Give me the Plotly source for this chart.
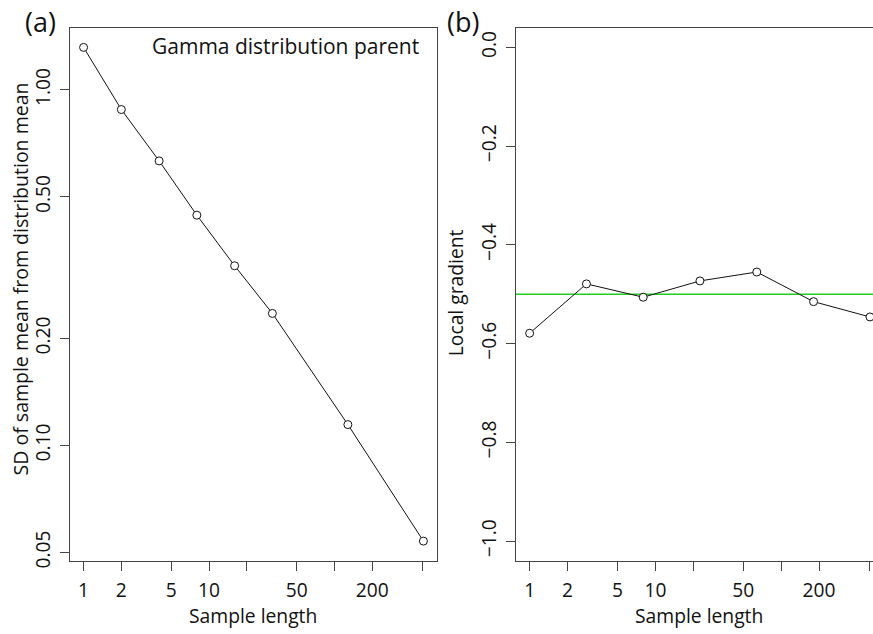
import math
import plotly.graph_objects as go

# Panel (a): SD of the sample mean against sample length
sample_length = [1, 2, 4, 8, 16, 32, 128, 512]
sd_of_mean = [1.316, 0.880, 0.631, 0.444, 0.320, 0.235, 0.1144, 0.0538]

# Panel (b): local gradient of the log-log curve
gradient_length = [1, 2.83, 8, 22.6, 64, 181, 508]
local_gradient = [-0.579, -0.479, -0.506, -0.473, -0.455, -0.515, -0.546]
reference_gradient = -0.5

x_tick_vals = [1, 2, 5, 10, 20, 50, 100, 200, 500]
x_tick_text = ["1", "2", "5", "10", "", "50", "", "200", ""]
ya_tick_vals = [0.05, 0.10, 0.20, 0.50, 1.00]
ya_tick_text = ["0.05", "0.10", "0.20", "0.50", "1.00"]
yb_tick_vals = [-1.0, -0.8, -0.6, -0.4, -0.2, 0.0]
yb_tick_text = ["\u22121.0", "\u22120.8", "\u22120.6", "\u22120.4", "\u22120.2", "0.0"]

W, H = 873, 634
FONT = "Open Sans"
INK = "#111111"
BOX = "#444444"
TICK_FS = 19.2
TITLE_FS = 19.3


def padded(lo, hi, frac=0.04):
    span = hi - lo
    return [lo - frac * span, hi + frac * span]


lx = [math.log10(v) for v in sample_length]
ly = [math.log10(v) for v in sd_of_mean]
xa_range = padded(min(lx), max(lx))
ya_range = padded(min(ly), max(ly))
yb_range = padded(-1.0, 0.0)
# the right-hand panel runs off the edge of the page
xb_range = [xa_range[0], xa_range[0] + (xa_range[1] - xa_range[0]) * (873 - 516) / (884 - 516)]

fig = go.Figure()

marker = dict(symbol="circle", size=8, color="white", line=dict(color=INK, width=1))

fig.add_trace(go.Scatter(
    x=sample_length, y=sd_of_mean, mode="lines+markers",
    line=dict(color=INK, width=1), marker=marker,
    xaxis="x", yaxis="y", showlegend=False, cliponaxis=False,
))

fig.add_trace(go.Scatter(
    x=gradient_length, y=local_gradient, mode="lines+markers",
    line=dict(color=INK, width=1), marker=marker,
    xaxis="x2", yaxis="y2", showlegend=False, cliponaxis=False,
))

fig.add_shape(type="line", xref="x2 domain", yref="y2",
              x0=0, x1=1, y0=reference_gradient, y1=reference_gradient,
              line=dict(color="#22cc22", width=1.3), layer="below")

y0 = 1 - 568 / H
y1 = 1 - 28 / H

common_x = dict(
    type="log", tickvals=x_tick_vals, ticktext=x_tick_text,
    ticks="outside", ticklen=9, tickwidth=1, tickcolor=BOX,
    showline=True, linecolor=BOX, linewidth=1.2,
    showgrid=False, zeroline=False,
    tickfont=dict(family=FONT, size=TICK_FS, color=INK),
    ticklabelstandoff=3,
)
common_y = dict(
    ticks="outside", ticklen=9, tickwidth=1, tickcolor=BOX,
    showline=True, linecolor=BOX, linewidth=1.2,
    showgrid=False, zeroline=False, tickangle=-90,
    tickfont=dict(family=FONT, size=TICK_FS, color=INK),
    ticklabelstandoff=2,
)

fig.update_layout(
    width=W, height=H,
    margin=dict(l=0, r=0, t=0, b=0),
    paper_bgcolor="white", plot_bgcolor="white",
    font=dict(family=FONT, color=INK),
    xaxis=dict(common_x, domain=[70 / W, 437 / W], range=xa_range, anchor="y", mirror=True),
    yaxis=dict(common_y, type="log", domain=[y0, y1], range=ya_range, anchor="x",
               tickvals=ya_tick_vals, ticktext=ya_tick_text, mirror=True),
    xaxis2=dict(common_x, domain=[516 / W, 1.0], range=xb_range, anchor="y2", mirror=True),
    yaxis2=dict(common_y, domain=[y0, y1], range=yb_range, anchor="x2",
                tickvals=yb_tick_vals, ticktext=yb_tick_text),
)

annotations = [
    dict(text="(a)", x=40 / W, y=1 - 22 / H, font=dict(size=27)),
    dict(text="(b)", x=463 / W, y=1 - 22 / H, font=dict(size=27)),
    dict(text="Gamma distribution parent", x=421 / W, y=1 - 47 / H,
         xanchor="right", font=dict(size=21)),
    dict(text="SD of sample mean from distribution mean", x=20 / W, y=1 - 283 / H,
         textangle=-90, font=dict(size=19.5)),
    dict(text="Local gradient", x=455 / W, y=1 - 297 / H,
         textangle=-90, font=dict(size=TITLE_FS)),
    dict(text="Sample length", x=253 / W, y=1 - 623 / H, font=dict(size=TITLE_FS)),
    dict(text="Sample length", x=699 / W, y=1 - 623 / H, font=dict(size=TITLE_FS)),
]
for a in annotations:
    a.setdefault("xanchor", "center")
    a.update(xref="paper", yref="paper", yanchor="middle", showarrow=False)
    a["font"] = dict(family=FONT, color=INK, **a["font"])
fig.update_layout(annotations=annotations)

fig.write_html("out.html")
